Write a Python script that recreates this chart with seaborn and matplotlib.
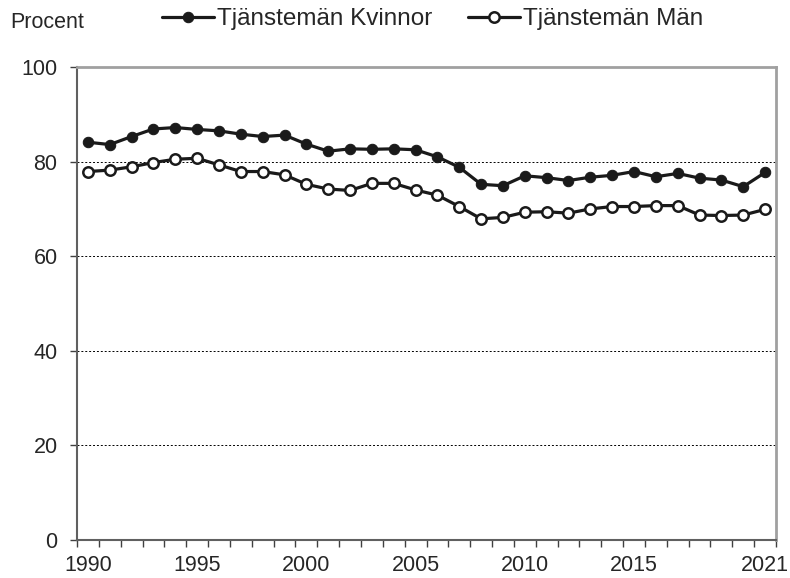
import numpy as np
import pandas as pd
import matplotlib
matplotlib.use("Agg")
import matplotlib.pyplot as plt
from matplotlib.ticker import MultipleLocator, FixedLocator
import seaborn as sns

years = list(range(1990, 2022))
kvinnor = [84.1, 83.6, 85.3, 86.9, 87.2, 86.8, 86.5, 85.8, 85.3, 85.6,
           83.7, 82.2, 82.7, 82.6, 82.7, 82.5, 81.0, 78.8, 75.2, 74.9,
           77.0, 76.6, 76.0, 76.7, 77.1, 77.9, 76.8, 77.5, 76.5, 76.1,
           74.7, 77.7]
man = [77.9, 78.2, 78.9, 79.8, 80.5, 80.7, 79.3, 77.9, 77.9, 77.2,
       75.2, 74.2, 73.9, 75.4, 75.4, 74.0, 72.9, 70.5, 67.9, 68.2,
       69.3, 69.4, 69.1, 70.0, 70.5, 70.5, 70.7, 70.7, 68.7, 68.6,
       68.7, 69.9]
xlabels = ["1990", "1995", "2000", "2005", "2010", "2015", "2021"]
xlabel_years = [1990, 1995, 2000, 2005, 2010, 2015, 2021]

df = pd.DataFrame({"year": years, "Tjänstemän Kvinnor": kvinnor, "Tjänstemän Män": man})

sns.set_style("white")
plt.rcParams['font.family'] = ['Liberation Sans', 'DejaVu Sans']

fig = plt.figure(figsize=(7.9, 5.78), dpi=100)
ax = fig.add_axes([77/790, 1-540/578, (776-77)/790, (540-67)/578])

sns.lineplot(data=df, x="year", y="Tjänstemän Kvinnor", ax=ax, color="#1a1a1a",
             lw=2.3, marker="o", markersize=11.5, markerfacecolor="#1a1a1a",
             markeredgecolor="#1a1a1a", label="Tjänstemän Kvinnor", zorder=3)
sns.lineplot(data=df, x="year", y="Tjänstemän Män", ax=ax, color="#1a1a1a",
             lw=2.3, marker="o", markersize=11.5, markerfacecolor="white",
             markeredgecolor="#1a1a1a", markeredgewidth=1.8,
             label="Tjänstemän Män", zorder=3)

ax.set_xlim(1989.5, 2021.5)
ax.set_ylim(0, 100)
ax.set_xlabel("")
ax.set_ylabel("")

ax.xaxis.set_major_locator(FixedLocator(xlabel_years))
ax.set_xticklabels(xlabels)
ax.xaxis.set_minor_locator(FixedLocator(np.arange(1989.5, 2022, 1)))
ax.tick_params(axis="x", which="major", length=0, labelsize=15.5, pad=11)
ax.tick_params(axis="x", which="minor", length=5, width=1, color="#404040", direction="out", bottom=True)
ax.yaxis.set_major_locator(MultipleLocator(20))
ax.tick_params(axis="y", which="major", length=5, width=1, color="#404040", direction="out",
               left=True, labelsize=15.5, pad=9)

for y in [20, 40, 60, 80]:
    ax.axhline(y, color="black", lw=0.7, ls=(0, (2, 2)), zorder=1)

for s in ["left", "bottom"]:
    ax.spines[s].set_color("#606060")
    ax.spines[s].set_linewidth(1.5)
for s in ["top", "right"]:
    ax.spines[s].set_color("#a0a0a0")
    ax.spines[s].set_linewidth(2)

ax.get_legend().remove()
handles, labels = ax.get_legend_handles_labels()
for h in handles:
    h.set_markersize(7.5)
fig.legend(handles, labels, loc="center left", bbox_to_anchor=(162/790, 1-19/578),
           ncol=2, frameon=False, fontsize=17.5, handlelength=2.15, handletextpad=0.12,
           columnspacing=1.45, borderaxespad=0, borderpad=0)

fig.text(10/790, 1-23/578, "Procent", fontsize=15.5, va="center", ha="left")

fig.savefig("out.png", dpi=100)
